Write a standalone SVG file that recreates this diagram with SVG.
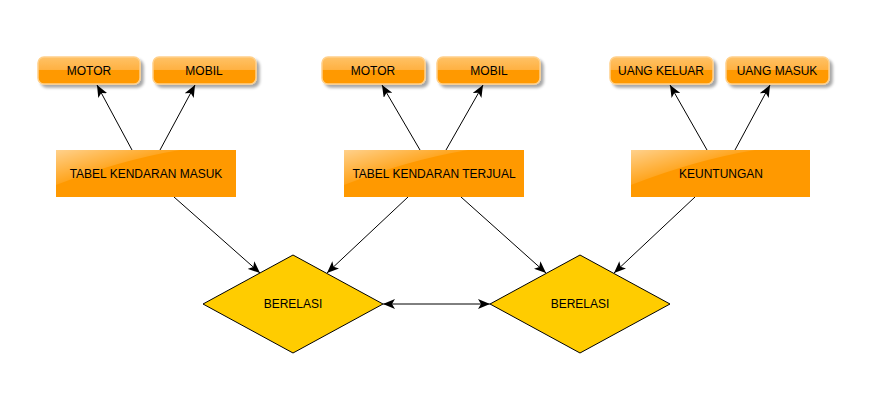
<svg xmlns="http://www.w3.org/2000/svg" width="872" height="405" viewBox="0 0 872 405">
<defs>
<linearGradient id="pill" x1="0" y1="0" x2="0" y2="1">
<stop offset="0" stop-color="#ffc266"/>
<stop offset="0.5" stop-color="#ffb040"/>
<stop offset="0.5" stop-color="#ff9900"/>
<stop offset="1" stop-color="#ff9900"/>
</linearGradient>
<linearGradient id="gloss" x1="0" y1="0" x2="1" y2="1">
<stop offset="0" stop-color="#ffffff" stop-opacity="0.55"/>
<stop offset="0.5" stop-color="#ffffff" stop-opacity="0.1"/>
<stop offset="1" stop-color="#ffffff" stop-opacity="0"/>
</linearGradient>
<filter id="sh" x="-10%" y="-20%" width="130%" height="160%">
<feGaussianBlur in="SourceAlpha" stdDeviation="1.5"/>
<feOffset dx="3" dy="3"/>
<feComponentTransfer><feFuncA type="linear" slope="0.35"/></feComponentTransfer>
<feMerge><feMergeNode/><feMergeNode in="SourceGraphic"/></feMerge>
</filter>
<marker id="ah" viewBox="0 0 12 10" refX="12" refY="5" markerWidth="12" markerHeight="10" markerUnits="userSpaceOnUse" orient="auto-start-reverse">
<path d="M0,0 L12,5 L0,10 L3,5 z" fill="#000"/>
</marker>
</defs>
<style>
.p{fill:url(#pill);stroke:#ffd08a;stroke-width:1.5;filter:url(#sh)}
.r{fill:#ff9900}
.g{fill:url(#gloss)}
.d{fill:#ffcc00;stroke:#000;stroke-width:1}
.t{font-family:"Liberation Sans",Arial,sans-serif;font-size:12px;fill:#000;text-anchor:middle;dominant-baseline:central}
.c line{stroke:#000;stroke-width:1;marker-end:url(#ah)}
</style>
<rect width="872" height="405" fill="#fff"/>
<g class="c" id="connectors">
<line x1="132" y1="150" x2="97" y2="85"/>
<line x1="160" y1="150" x2="195" y2="85"/>
<line x1="420" y1="150" x2="382" y2="85"/>
<line x1="446" y1="150" x2="483" y2="85"/>
<line x1="707" y1="150" x2="670" y2="85"/>
<line x1="735" y1="150" x2="770" y2="85"/>
<line x1="174" y1="197" x2="260" y2="273"/>
<line x1="408" y1="197" x2="327" y2="273"/>
<line x1="461" y1="197" x2="546" y2="273"/>
<line x1="695" y1="197" x2="614" y2="273"/>
<line x1="383" y1="304" x2="490" y2="304" style="marker-start:url(#ah)"/>
</g>
<g id="motor1"><rect class="p" x="38" y="57" width="102" height="27" rx="6"/><text class="t" x="89" y="71">MOTOR</text></g>
<g id="mobil1"><rect class="p" x="153" y="57" width="103" height="27" rx="6"/><text class="t" x="204" y="71">MOBIL</text></g>
<g id="motor2"><rect class="p" x="322" y="57" width="103" height="27" rx="6"/><text class="t" x="373" y="71">MOTOR</text></g>
<g id="mobil2"><rect class="p" x="437" y="57" width="103" height="27" rx="6"/><text class="t" x="489" y="71">MOBIL</text></g>
<g id="uangkeluar"><rect class="p" x="610" y="57" width="103" height="27" rx="6"/><text class="t" x="661" y="71">UANG KELUAR</text></g>
<g id="uangmasuk"><rect class="p" x="726" y="57" width="103" height="27" rx="6"/><text class="t" x="777" y="71">UANG MASUK</text></g>
<g id="tabelmasuk"><rect class="r" x="56" y="150" width="180" height="47"/><path class="g" d="M56,150 H180 Q120,160 56,185 Z"/><text class="t" x="146" y="174">TABEL KENDARAN MASUK</text></g>
<g id="tabelterjual"><rect class="r" x="344" y="150" width="180" height="47"/><path class="g" d="M344,150 H468 Q408,160 344,185 Z"/><text class="t" x="434" y="174">TABEL KENDARAN TERJUAL</text></g>
<g id="keuntungan"><rect class="r" x="631" y="150" width="179" height="47"/><path class="g" d="M631,150 H755 Q695,160 631,185 Z"/><text class="t" x="721" y="174">KEUNTUNGAN</text></g>
<g id="berelasi1"><polygon class="d" points="293,255 383,304 293,353 203,304"/><text class="t" x="293" y="304">BERELASI</text></g>
<g id="berelasi2"><polygon class="d" points="580,255 670,304 580,353 490,304"/><text class="t" x="580" y="304">BERELASI</text></g>
</svg>
